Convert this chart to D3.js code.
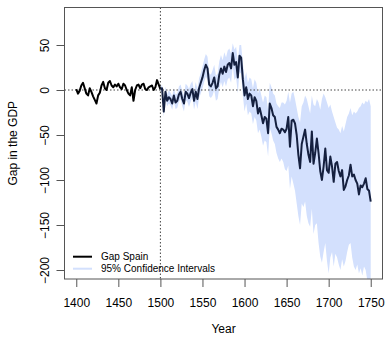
<!DOCTYPE html>
<html>
<head>
<meta charset="utf-8">
<script src="https://cdn.jsdelivr.net/npm/d3@7"></script>
<style>
  html, body { margin: 0; padding: 0; background: #fff; }
  svg { display: block; font-family: "Liberation Sans", Arial, Helvetica, sans-serif; }
</style>
</head>
<body>
<svg id="chart" width="387" height="337"></svg>
<script>
// Synthetic-control gap for Spain, 1400–1750 (two-year steps)
const startYear = 1400;
const treatYear = 1500;
const endYear = 1750;
const yearStep = 2;

// Gap before the treatment year (1400–1500)
const gapPre = [
  1, -4, -1, 5, 8,
  2, -4, -6, 2, -2,
  -7, -11, -15, -6, -3,
  5, 9, 2, 0, 8,
  10, 5, 3, 6, 4,
  7, 3, 1, 7, 5,
  0, -4, -6, 3, -12,
  0, 5, 6, 2, 6,
  7, 1, 0, 3, 4,
  5, 0, 3, 11, 6,
  1
];

// Gap after the treatment year (1500–1750)
const gapPost = [
  1, 2, -24, -2, -12,
  -8, -10, -15, -6, -14,
  -12, -5, -2, -10, -15,
  -2, -4, -9, -3, 1,
  -12, -2, -10, 2, 8,
  14, 22, 28, 24, 6,
  4, 8, 14, 2, 4,
  17, 24, 18, 26, 20,
  28, 30, 24, 41, 28,
  31, 14, 38, 36, 12,
  -6, 3, -10, -4, -6,
  -18, -8, -12, -26, -20,
  -28, -37, -30, -32, -48,
  -15, -20, -28, -30, -41,
  -44, -48, -43, -44, -47,
  -43, -30, -63, -34, -33,
  -37, -50, -72, -87, -60,
  -52, -44, -60, -72, -80,
  -46, -82, -70, -54, -70,
  -90, -100, -85, -65, -89,
  -92, -74, -85, -102, -82,
  -80, -90, -96, -89, -111,
  -107, -100, -95, -83, -96,
  -94, -100, -104, -116, -106,
  -108, -104, -98, -110, -112,
  -124
];

// 95% confidence bounds for the post-treatment gap (1500–1750)
const ciUpper = [
  3, 6, -16, 4, -5,
  0, -3, -7, 2, -5,
  -4, 4, 6, -1, -6,
  7, 5, 1, 7, 10,
  -2, 9, 1, 13, 19,
  26, 34, 40, 37, 19,
  17, 22, 28, 16, 18,
  32, 39, 33, 42, 36,
  44, 46, 40, 52, 45,
  48, 32, 50, 50, 30,
  12, 20, 8, 14, 12,
  2, 12, 8, -4, 2,
  -6, -14, -6, -8, -22,
  8, 3, -4, -6, -15,
  -18, -20, -14, -14, -16,
  -12, -2, -14, -4, -2,
  -10, -20, -30, -36, -18,
  -14, -6, -10, -18, -26,
  -6, -16, -18, -10, -14,
  -22, -10, -4, -8, -14,
  -20, -16, -24, -30, -36,
  -42, -44, -48, -40, -46,
  -38, -30, -26, -20, -28,
  -24, -26, -24, -20, -18,
  -14, -16, -12, -14, -10,
  -18
];
const ciLower = [
  -1, -2, -30, -8, -18,
  -15, -17, -22, -13, -21,
  -20, -13, -10, -18, -24,
  -11, -13, -19, -13, -8,
  -22, -13, -21, -9, -4,
  2, 9, 15, 11, -7,
  -9, -6, 0, -12, -10,
  2, 9, 3, 10, 4,
  12, 14, 8, 26, 11,
  14, -4, 20, 18, -6,
  -24, -15, -28, -24, -26,
  -38, -30, -34, -48, -44,
  -52, -62, -56, -58, -74,
  -42, -48, -56, -60, -70,
  -76, -80, -76, -80, -88,
  -90, -84, -110, -96, -104,
  -112, -126, -140, -150, -126,
  -130, -124, -140, -148, -152,
  -132, -160, -150, -148, -170,
  -185, -192, -180, -170, -190,
  -204, -186, -180, -196, -182,
  -186, -194, -200, -188, -196,
  -190, -180, -172, -170, -186,
  -196, -200, -194, -204, -198,
  -206, -196, -200, -212, -215,
  -215
];

const xTicks = [1400, 1450, 1500, 1550, 1600, 1650, 1700, 1750];
const yTicks = [-200, -150, -100, -50, 0, 50];
const legendLabels = ["Gap Spain", "95% Confidence Intervals"];

const colGapPre = "#000000";
const colGapPost = "#15203f";
const colBand = "#d3e0fd";
const colAxis = "#555555";

// Plot region
const plot = { left: 64.5, right: 382.5, top: 7.5, bottom: 279 };

const x = d3.scaleLinear().domain([1386, 1764]).range([plot.left, plot.right]);
const y = d3.scaleLinear().domain([-210, 91.67]).range([plot.bottom, plot.top]);

const preData = gapPre.map((v, i) => ({ year: startYear + i * yearStep, v }));
const postData = gapPost.map((v, i) => ({
  year: treatYear + i * yearStep, v, lo: ciLower[i], hi: ciUpper[i]
}));

const svg = d3.select("#chart");

svg.append("defs").append("clipPath").attr("id", "plot-clip")
  .append("rect")
  .attr("x", plot.left).attr("y", plot.top)
  .attr("width", plot.right - plot.left).attr("height", plot.bottom - plot.top);

const inner = svg.append("g").attr("clip-path", "url(#plot-clip)");

// Confidence band
inner.append("path")
  .datum(postData)
  .attr("fill", colBand)
  .attr("d", d3.area().x(d => x(d.year)).y0(d => y(d.lo)).y1(d => y(d.hi)));

// Reference lines: zero gap and treatment year
inner.append("line")
  .attr("x1", plot.left).attr("x2", plot.right)
  .attr("y1", y(0)).attr("y2", y(0))
  .attr("stroke", "#444").attr("stroke-width", 1)
  .attr("stroke-dasharray", "1.5,2");
inner.append("line")
  .attr("x1", x(treatYear)).attr("x2", x(treatYear))
  .attr("y1", plot.top).attr("y2", plot.bottom)
  .attr("stroke", "#444").attr("stroke-width", 1)
  .attr("stroke-dasharray", "1.5,2");

const gapLine = d3.line().x(d => x(d.year)).y(d => y(d.v));

inner.append("path")
  .datum(preData)
  .attr("fill", "none").attr("stroke", colGapPre)
  .attr("stroke-width", 2).attr("stroke-linejoin", "round")
  .attr("d", gapLine);

inner.append("path")
  .datum(postData)
  .attr("fill", "none").attr("stroke", colGapPost)
  .attr("stroke-width", 2).attr("stroke-linejoin", "round")
  .attr("d", gapLine);

// Box around the plot region
svg.append("rect")
  .attr("x", plot.left).attr("y", plot.top)
  .attr("width", plot.right - plot.left).attr("height", plot.bottom - plot.top)
  .attr("fill", "none").attr("stroke", colAxis).attr("stroke-width", 1);

// Bottom axis
const xAxis = svg.append("g")
  .attr("transform", `translate(0,${plot.bottom})`)
  .call(d3.axisBottom(x).tickValues(xTicks).tickFormat(d3.format("d"))
    .tickSize(8).tickPadding(11));
xAxis.select(".domain").remove();
xAxis.selectAll(".tick line").attr("stroke", colAxis);
xAxis.selectAll(".tick text")
  .attr("fill", "#000").attr("font-size", 12)
  .attr("font-family", "Liberation Sans, Arial, sans-serif");

// Left axis with labels turned to run upward
const yAxis = svg.append("g")
  .attr("transform", `translate(${plot.left},0)`)
  .call(d3.axisLeft(y).tickValues(yTicks).tickFormat(d3.format("d")).tickSize(8));
yAxis.select(".domain").remove();
yAxis.selectAll(".tick line").attr("stroke", colAxis);
yAxis.selectAll(".tick text")
  .attr("x", null).attr("dy", null)
  .attr("text-anchor", "middle")
  .attr("transform", "translate(-15.5,0) rotate(-90)")
  .attr("fill", "#000").attr("font-size", 12)
  .attr("font-family", "Liberation Sans, Arial, sans-serif");

// Axis titles
svg.append("text")
  .attr("x", (plot.left + plot.right) / 2).attr("y", 333)
  .attr("text-anchor", "middle").attr("font-size", 12)
  .text("Year");
svg.append("text")
  .attr("transform", `translate(17,${(plot.top + plot.bottom) / 2}) rotate(-90)`)
  .attr("text-anchor", "middle").attr("font-size", 12)
  .text("Gap in the GDP");

// Legend
const legend = svg.append("g");
const legendRows = [
  { label: legendLabels[0], color: colGapPre, y: 256.7 },
  { label: legendLabels[1], color: colBand, y: 268.7 }
];
legendRows.forEach(r => {
  legend.append("line")
    .attr("x1", 73).attr("x2", 92).attr("y1", r.y).attr("y2", r.y)
    .attr("stroke", r.color).attr("stroke-width", 2);
  legend.append("text")
    .attr("x", 101).attr("y", r.y + 3.6)
    .attr("font-size", 10).attr("fill", "#000")
    .text(r.label);
});
</script>
</body>
</html>
